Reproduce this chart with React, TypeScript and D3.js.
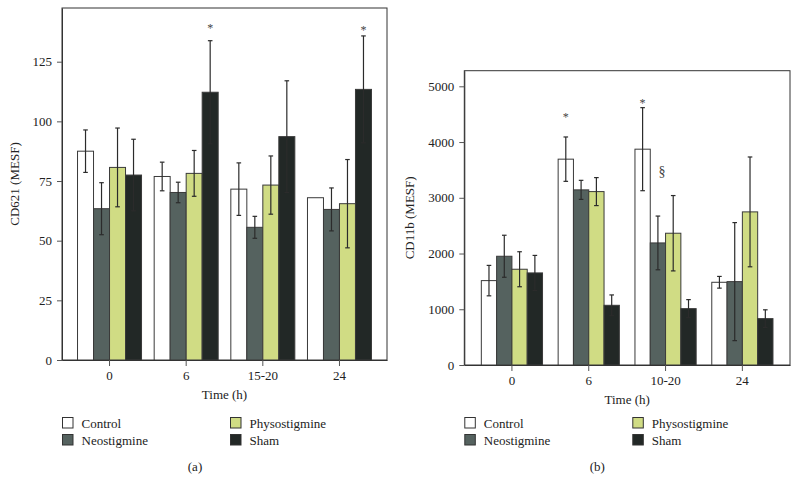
import React, { useRef, useEffect } from "react";
import * as d3 from "d3";

// treatment groups, shared by both panels
const seriesNames = ["Control", "Neostigmine", "Physostigmine", "Sham"];
const seriesColors = ["#ffffff", "#55625f", "#d0dc84", "#222826"];

// panel (a) CD62l
const groupsA = ["0", "6", "15-20", "24"];
const cd62Mean = [
  [87.5, 63.4, 80.7, 77.5],
  [76.9, 70.2, 78.2, 112.2],
  [71.6, 55.6, 73.3, 93.6],
  [68, 63.1, 65.5, 113.4],
];
const cd62Err = [
  [8.9, 10.9, 16.5, 15],
  [6, 4.3, 9.6, 21.6],
  [11, 4.6, 12.2, 23.4],
  [0, 9, 18.5, 22.4],
];
const cd62Ticks = [0, 25, 50, 75, 100, 125];
const cd62Marks = [
  { group: "6", series: "Sham", label: "*", value: 140 },
  { group: "24", series: "Sham", label: "*", value: 139.5 },
];

// panel (b) CD11b
const groupsB = ["0", "6", "10-20", "24"];
const cd11bMean = [
  [1514, 1951, 1718, 1652],
  [3693, 3142, 3111, 1071],
  [3872, 2190, 2364, 1011],
  [1484, 1496, 2747, 832],
];
const cd11bErr = [
  [273, 377, 314, 314],
  [398, 171, 251, 186],
  [745, 482, 676, 162],
  [105, 1059, 985, 158],
];
const cd11bTicks = [0, 1000, 2000, 3000, 4000, 5000];
const cd11bMarks = [
  { group: "6", series: "Control", label: "*", value: 4500 },
  { group: "10-20", series: "Control", label: "*", value: 4740 },
  { group: "10-20", series: "Neostigmine", label: "§", value: 3470 },
];

const FONT = "'Liberation Serif', 'Times New Roman', serif";

function drawPanel(svg, p) {
  const g = svg.append("g");

  const x0 = d3
    .scaleBand()
    .domain(p.groups)
    .range([p.left, p.right])
    .paddingInner(0)
    .paddingOuter(0.12);

  const half = (p.barWidth * seriesNames.length) / 2;
  const x1 = d3
    .scaleBand()
    .domain(seriesNames)
    .range([x0.bandwidth() / 2 - half, x0.bandwidth() / 2 + half]);

  const y = d3.scaleLinear().domain([0, p.yMax]).range([p.bottom, p.top]);

  // plot frame
  g.append("rect")
    .attr("x", p.left)
    .attr("y", p.top)
    .attr("width", p.right - p.left)
    .attr("height", p.bottom - p.top)
    .attr("fill", "none")
    .attr("stroke", "#333")
    .attr("stroke-width", 1);

  // bars
  const rows = p.groups.flatMap((grp, i) =>
    seriesNames.map((s, j) => ({
      grp,
      s,
      j,
      mean: p.mean[i][j],
      err: p.err[i][j],
    }))
  );

  g.append("g")
    .selectAll("rect")
    .data(rows)
    .join("rect")
    .attr("x", (d) => x0(d.grp) + x1(d.s))
    .attr("y", (d) => y(d.mean))
    .attr("width", x1.bandwidth())
    .attr("height", (d) => y(0) - y(d.mean))
    .attr("fill", (d) => seriesColors[d.j])
    .attr("stroke", "#3a3a3a")
    .attr("stroke-width", 1);

  // error bars
  const eb = g
    .append("g")
    .attr("stroke", "#2b2b2b")
    .attr("stroke-width", 1.2)
    .selectAll("g")
    .data(rows.filter((d) => d.err > 0))
    .join("g")
    .attr(
      "transform",
      (d) => `translate(${x0(d.grp) + x1(d.s) + x1.bandwidth() / 2},0)`
    );
  eb.append("line")
    .attr("y1", (d) => y(d.mean + d.err))
    .attr("y2", (d) => y(d.mean - d.err));
  eb.append("line")
    .attr("x1", -2.3)
    .attr("x2", 2.3)
    .attr("y1", (d) => y(d.mean + d.err))
    .attr("y2", (d) => y(d.mean + d.err));
  eb.append("line")
    .attr("x1", -2.3)
    .attr("x2", 2.3)
    .attr("y1", (d) => y(d.mean - d.err))
    .attr("y2", (d) => y(d.mean - d.err));

  // significance marks
  g.append("g")
    .selectAll("text")
    .data(p.marks)
    .join("text")
    .attr("x", (d) => x0(d.group) + x1(d.series) + x1.bandwidth() / 2 + (d.label === "§" ? 4 : 0))
    .attr("y", (d) => y(d.value))
    .attr("dy", (d) => (d.label === "*" ? "0.55em" : "0.35em"))
    .attr("text-anchor", "middle")
    .attr("font-family", FONT)
    .attr("font-size", (d) => (d.label === "*" ? 12 : 14))
    .attr("fill", "#444")
    .text((d) => d.label);

  // axes
  const yAxis = g
    .append("g")
    .attr("transform", `translate(${p.left},0)`)
    .call(
      d3
        .axisLeft(y)
        .tickValues(p.ticks)
        .tickFormat(d3.format("d"))
        .tickSize(5)
        .tickSizeOuter(0)
        .tickPadding(5)
    );
  const xAxis = g
    .append("g")
    .attr("transform", `translate(0,${p.bottom})`)
    .call(d3.axisBottom(x0).tickSize(6).tickSizeOuter(0).tickPadding(5));

  [yAxis, xAxis].forEach((a) => {
    a.select(".domain").attr("stroke", "#333");
    a.selectAll(".tick line").attr("stroke", "#555");
    a.selectAll("text")
      .attr("font-family", FONT)
      .attr("font-size", 13)
      .attr("fill", "#222");
  });

  // axis titles
  g.append("text")
    .attr("transform", `translate(${p.left - p.yLabelGap},${(p.top + p.bottom) / 2}) rotate(-90)`)
    .attr("text-anchor", "middle")
    .attr("font-family", FONT)
    .attr("font-size", 13)
    .attr("fill", "#222")
    .text(p.yLabel);

  g.append("text")
    .attr("x", (p.left + p.right) / 2)
    .attr("y", p.bottom + 39)
    .attr("text-anchor", "middle")
    .attr("font-family", FONT)
    .attr("font-size", 13)
    .attr("fill", "#222")
    .text("Time (h)");

  // legend, 2 columns: Control, Neostigmine | Physostigmine, Sham
  const leg = g
    .append("g")
    .selectAll("g")
    .data(seriesNames)
    .join("g")
    .attr(
      "transform",
      (d, i) =>
        `translate(${p.left + (i >= 2 ? 168 : 0)},${423 + (i % 2) * 17})`
    );
  leg.append("rect")
    .attr("x", 0.5)
    .attr("y", -5.5)
    .attr("width", 10.5)
    .attr("height", 10.5)
    .attr("fill", (d, i) => seriesColors[i])
    .attr("stroke", "#333")
    .attr("stroke-width", 1);
  leg.append("text")
    .attr("x", 19.5)
    .attr("y", 4.5)
    .attr("font-family", FONT)
    .attr("font-size", 13)
    .attr("fill", "#222")
    .text((d) => d);

  g.append("text")
    .attr("x", p.left + 133)
    .attr("y", 471)
    .attr("text-anchor", "middle")
    .attr("font-family", FONT)
    .attr("font-size", 13)
    .attr("fill", "#222")
    .text(p.tag);
}

export default function App() {
  const svgRef = useRef(null);

  useEffect(() => {
    const svg = d3.select(svgRef.current);
    svg.selectAll("*").remove();

    drawPanel(svg, {
      groups: groupsA,
      mean: cd62Mean,
      err: cd62Err,
      ticks: cd62Ticks,
      marks: cd62Marks,
      yMax: 147.5,
      left: 62,
      right: 387,
      top: 8,
      bottom: 360,
      barWidth: 16,
      yLabel: "CD621 (MESF)",
      yLabelGap: 43,
      tag: "(a)",
    });

    drawPanel(svg, {
      groups: groupsB,
      mean: cd11bMean,
      err: cd11bErr,
      ticks: cd11bTicks,
      marks: cd11bMarks,
      yMax: 5280,
      left: 464.3,
      right: 790,
      top: 70.7,
      bottom: 365,
      barWidth: 15.3,
      yLabel: "CD11b (MESF)",
      yLabelGap: 50,
      tag: "(b)",
    });
  }, []);

  return (
    <svg
      ref={svgRef}
      width={799}
      height={493}
      style={{ position: "absolute", left: 0, top: 0, background: "#fff" }}
    ></svg>
  );
}
